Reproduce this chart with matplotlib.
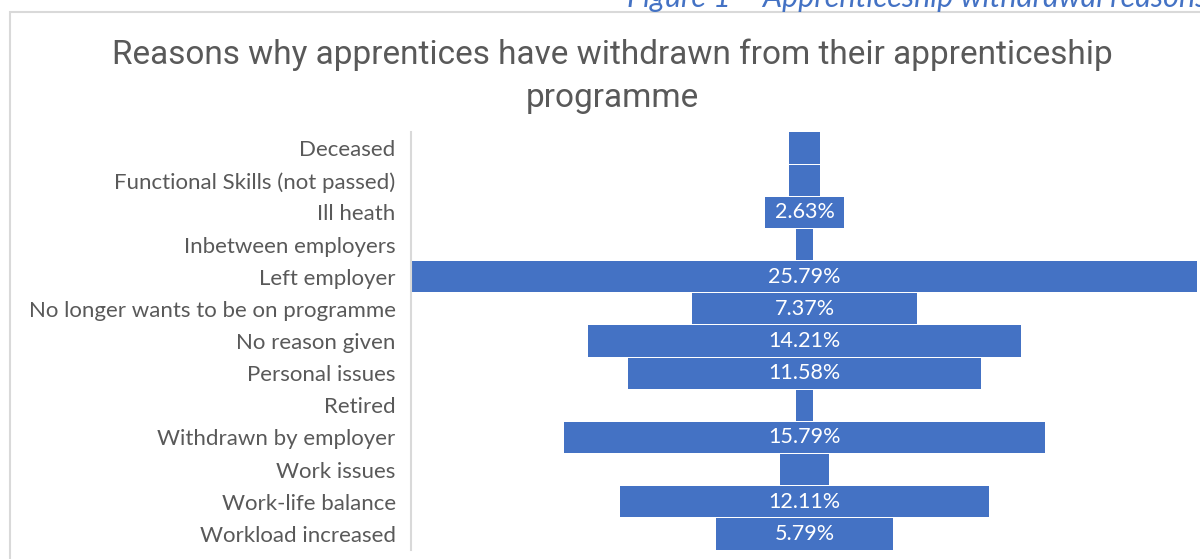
import matplotlib.pyplot as plt
from matplotlib.patches import Rectangle

reasons = ["Deceased", "Functional Skills (not passed)", "Ill heath", "Inbetween employers",
           "Left employer", "No longer wants to be on programme", "No reason given",
           "Personal issues", "Retired", "Withdrawn by employer", "Work issues",
           "Work-life balance", "Workload increased"]
share = [1.05, 1.05, 2.63, 0.53, 25.79, 7.37, 14.21, 11.58, 0.53, 15.79, 1.58, 12.11, 5.79]
# Excel only shows a label on the bigger bars
labelled = [False, False, True, False, True, True, True, True, False, True, False, True, True]

plt.rcParams['font.family'] = ['Lato', 'DejaVu Sans']

fig = plt.figure(figsize=(12, 5.59), dpi=100)

# light grey frame of the pasted chart, clipped by the page
fig.patches.append(Rectangle((10 / 1200, -0.1), 1.2, (559 - 12) / 559 + 0.1,
                             transform=fig.transFigure, fill=False,
                             edgecolor="#D9D9D9", linewidth=1.5))
# document caption, cut off at the top of the crop
fig.text(627 / 1200, 1.004, "Figure 1 \u2013 Apprenticeship withdrawal reasons", ha="left", va="center",
         fontsize=22, style="italic", color="#4472C4")

fig.text(612 / 1200, 0.864, "Reasons why apprentices have withdrawn from their apprenticeship\nprogramme",
         ha="center", va="center", fontsize=24, color="#595959", linespacing=1.42,
         family=['Roboto', 'DejaVu Sans'])

ax = fig.add_axes([411 / 1200, 9 / 559, 787 / 1200, 418 / 559])
y = list(range(len(reasons)))
left = [-v / 2 for v in share]
ax.barh(y, share, left=left, height=0.97, color="#4472C4")
for yi, v, show in zip(y, share, labelled):
    if show:
        ax.text(0, yi, f"{v:.2f}%", ha="center", va="center", color="white", fontsize=15.5)

ax.set_xlim(-12.94, 12.94)
ax.set_ylim(len(reasons) - 0.5, -0.5)
ax.set_yticks(y)
ax.set_yticklabels(reasons, fontsize=16, color="#595959")
ax.tick_params(axis="y", length=0, pad=11)
ax.set_xticks([])
for s in ["top", "right", "bottom"]:
    ax.spines[s].set_visible(False)
ax.spines["left"].set_color("#D9D9D9")
ax.spines["left"].set_linewidth(1.5)

plt.savefig("out.png", dpi=100)
